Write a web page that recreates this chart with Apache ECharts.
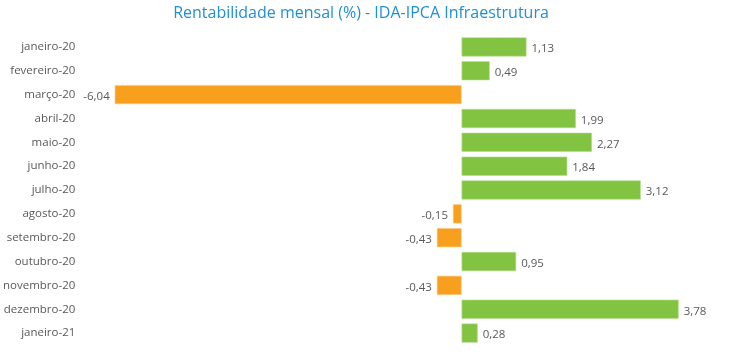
<!DOCTYPE html>
<html><head><meta charset="utf-8">
<script src="https://cdn.jsdelivr.net/npm/echarts@6/dist/echarts.min.js"></script>
<style>html,body{margin:0;padding:0;background:#fff}#c{width:750px;height:355px}</style>
</head><body><div id="c"></div>
<script>
const categories = ['janeiro-20','fevereiro-20','março-20','abril-20','maio-20','junho-20','julho-20','agosto-20','setembro-20','outubro-20','novembro-20','dezembro-20','janeiro-21'];
const values = [1.13, 0.49, -6.04, 1.99, 2.27, 1.84, 3.12, -0.15, -0.43, 0.95, -0.43, 3.78, 0.28];
const titleText = 'Rentabilidade mensal (%) - IDA-IPCA Infraestrutura';
const posColor = '#82C341';
const negColor = '#F99F1E';

const chart = echarts.init(document.getElementById('c'));
chart.setOption({
  animation: false,
  title: {
    text: titleText, left: 356, top: 0, textAlign: 'center',
    textStyle: {fontFamily: 'Open Sans', fontSize: 16, fontWeight: 'normal', color: '#1F8FD8'}
  },
  grid: {left: 88, right: 30, top: 35, bottom: 10},
  xAxis: {
    type: 'value', min: -6.5, max: 4.5,
    show: false
  },
  yAxis: {
    type: 'category', data: categories, inverse: true,
    axisLine: {show: false}, axisTick: {show: false},
    axisLabel: {margin: 13, color: '#595959', fontFamily: 'Open Sans', fontSize: 11.5}
  },
  series: [{
    type: 'bar', barWidth: '80%',
    data: values.map(v => ({
      value: v,
      itemStyle: {color: v < 0 ? negColor : posColor, borderColor: v < 0 ? '#FBC77E' : '#B5DD8F', borderWidth: 0.6},
      label: {position: v < 0 ? 'left' : 'right'}
    })),
    label: {
      show: true, distance: 5, offset: [0, 2], color: '#595959', fontFamily: 'Open Sans', fontSize: 11.5,
      formatter: p => p.value.toFixed(2).replace('.', ',')
    }
  }]
});
</script></body></html>
